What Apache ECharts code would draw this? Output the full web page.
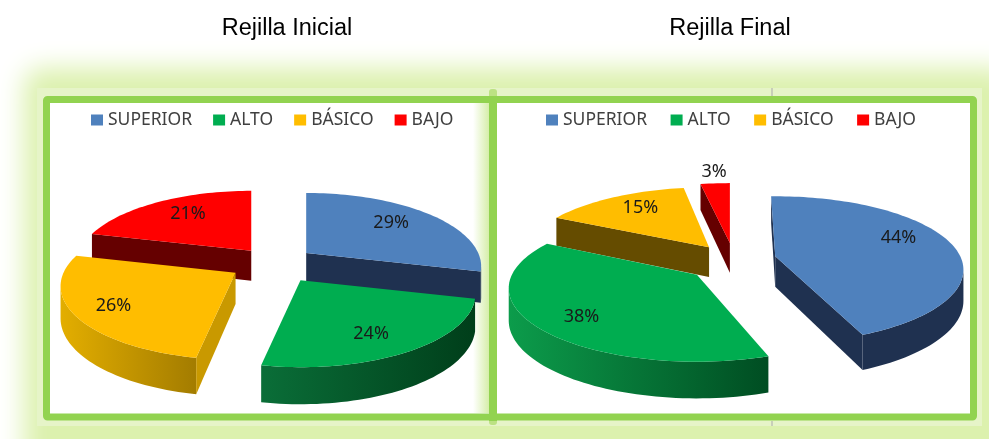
<!DOCTYPE html>
<html>

<head>
    <meta charset="utf-8">
    <title>Rejilla Inicial / Rejilla Final</title>
    <script src="https://cdn.jsdelivr.net/npm/echarts@6/dist/echarts.min.js"></script>
    <style>
        html, body {
            margin: 0;
            background-color: #ffffff;
        }
        #chart {
            width: 989px;
            height: 439px;
        }
    </style>
</head>

<body>
    <div id="chart"></div>
    <script>
        const categories = ['SUPERIOR', 'ALTO', 'BÁSICO', 'BAJO'];
        const inicialValues = [29, 24, 26, 21];
        const finalValues = [44, 38, 15, 3];

        const topColors = ['#4F81BD', '#00AD50', '#FFBD00', '#FF0000'];

        // la perspectiva del pastel 3D: el lado lejano se ve mas pequeño
        const PERSPECTIVE = 0.184;
        const FONT = '"Noto Sans", sans-serif';

        // nudge / turn / label: ajustes finos por trozo [x, y], grados, [x, y]
        const pies = [
            {
                values: inicialValues, cx: 273, cy: 264, rx: 172, ry: 71, explodeX: 42, explodeY: 18,
                nudge: [[0, 0], [5, 1], [-2, -1], [4, 1]],
                turn: [0, 0, 0, 0],
                label: [[-3, -2], [-8, 3], [-6, 3], [3, -2]],
                cutWalls: ['#1F3150', '#005A2B', '#C99900', '#650000'],
                outerWalls: [
                    ['#1F3150', '#1F3150'],
                    ['#0A6E38', '#003E1A'],
                    ['#E3AE00', '#A37C00'],
                    ['#650000', '#650000']
                ]
            },
            {
                values: finalValues, cx: 734, cy: 262, rx: 185, ry: 71, explodeX: 44, explodeY: 20,
                nudge: [[-2, -2], [-5, -1], [2, 1], [0, 1]],
                turn: [-1.5, 3, 1.5, 0],
                label: [[-2, -8], [0, 5], [0, -3], [2, 0]],
                cutWalls: ['#1F3150', '#005A2B', '#654C00', '#650000'],
                outerWalls: [
                    ['#1F3150', '#1F3150'],
                    ['#0C9C4B', '#004D22'],
                    ['#654C00', '#654C00'],
                    ['#650000', '#650000']
                ]
            }
        ];

        function project(pie, theta) {
            const k = 1 + PERSPECTIVE * Math.cos(theta);
            return [pie.rx * Math.sin(theta) / k, -pie.ry * Math.cos(theta) / k];
        }

        function depthAt(y) {
            return 30 + (y - 250) * 0.06;
        }

        function drop(p) {
            return [p[0], p[1] + depthAt(p[1])];
        }

        function makeSlice(pie, index) {
            const total = pie.values.reduce((a, b) => a + b, 0);
            const before = pie.values.slice(0, index).reduce((a, b) => a + b, 0);
            const value = pie.values[index];
            const start = before / total * Math.PI * 2;
            const end = (before + value) / total * Math.PI * 2;
            const mid = (start + end) / 2;
            const turn = pie.turn[index] * Math.PI / 180;
            return {
                type: 'custom',
                name: categories[index],
                coordinateSystem: 'none',
                farness: Math.cos(mid),
                itemStyle: { color: topColors[index] },
                data: [[value, start, end]],
                renderItem: function (params, api) {
                    const a0 = api.value(1), a1 = api.value(2), m = (a0 + a1) / 2;
                    const apex = [
                        pie.cx + pie.explodeX * Math.sin(m) + pie.nudge[index][0],
                        pie.cy - pie.explodeY * Math.cos(m) + pie.nudge[index][1]
                    ];
                    const at = function (theta, scale) {
                        const p = project(pie, theta + turn);
                        return [apex[0] + p[0] * scale, apex[1] + p[1] * scale];
                    };
                    const arc = [];
                    const steps = Math.max(4, Math.ceil((a1 - a0) / 0.03));
                    for (let i = 0; i <= steps; i++) {
                        arc.push(at(a0 + (a1 - a0) * i / steps, 1));
                    }
                    const children = [];

                    // pared curva: solo los tramos que van hacia la izquierda miran al frente
                    const front = arc.filter((p, i) =>
                        (i < arc.length - 1 && arc[i + 1][0] < p[0]) || (i > 0 && p[0] < arc[i - 1][0]));
                    if (front.length > 1) {
                        children.push({
                            type: 'polygon',
                            shape: { points: front.concat(front.map(drop).reverse()) },
                            style: {
                                fill: new echarts.graphic.LinearGradient(0, 0, 1, 0, [
                                    { offset: 0, color: pie.outerWalls[index][0] },
                                    { offset: 1, color: pie.outerWalls[index][1] }
                                ])
                            }
                        });
                    }
                    // paredes de corte
                    [[apex, arc[0]], [arc[arc.length - 1], apex]].forEach(function (edge) {
                        if (edge[1][0] < edge[0][0]) {
                            children.push({
                                type: 'polygon',
                                shape: { points: [edge[0], edge[1], drop(edge[1]), drop(edge[0])] },
                                style: { fill: pie.cutWalls[index] }
                            });
                        }
                    });
                    children.push({
                        type: 'polygon',
                        shape: { points: [apex].concat(arc) },
                        style: { fill: topColors[index] }
                    });
                    // los trozos pequeños llevan la etiqueta por fuera
                    const labelPos = at(m, api.value(0) < 5 ? 1.2 : 0.72);
                    children.push({
                        type: 'text',
                        x: labelPos[0] + pie.label[index][0],
                        y: labelPos[1] + pie.label[index][1],
                        z2: 10,
                        style: {
                            text: api.value(0) + '%',
                            font: '18px ' + FONT,
                            fill: '#1A1A1A',
                            align: 'center',
                            verticalAlign: 'middle'
                        }
                    });
                    return { type: 'group', children: children };
                }
            };
        }

        function makeLegend(left, gap) {
            return {
                left: left,
                top: 111,
                data: categories,
                icon: 'rect',
                itemWidth: 12,
                itemHeight: 11,
                itemGap: gap,
                padding: 0,
                selectedMode: false,
                textStyle: { fontFamily: FONT, fontSize: 17.5, color: '#404040' }
            };
        }

        const chart = echarts.init(document.getElementById('chart'), null, { renderer: 'canvas' });

        const series = [];
        pies.forEach(function (pie) {
            // de atras hacia adelante
            const slices = categories.map((name, i) => makeSlice(pie, i));
            slices.sort((a, b) => b.farness - a.farness);
            slices.forEach(s => series.push(s));
        });

        const option = {
            animation: false,
            backgroundColor: '#ffffff',
            title: [
                {
                    text: 'Rejilla Inicial', left: 282, top: 12, textAlign: 'center',
                    textStyle: { fontFamily: '"Liberation Sans"', fontSize: 23.5, fontWeight: 'normal', color: '#000000' }
                },
                {
                    text: 'Rejilla Final', left: 725, top: 12, textAlign: 'center',
                    textStyle: { fontFamily: '"Liberation Sans"', fontSize: 23.5, fontWeight: 'normal', color: '#000000' }
                }
            ],
            legend: [makeLegend(91, 21), makeLegend(546, 23.5)],
            graphic: [
                {
                    // solo la sombra cae dentro del lienzo, asi el halo no tiene borde duro
                    type: 'rect', z: -5,
                    shape: { x: 24 - 3000, y: 68, width: 990, height: 420, r: 18 },
                    style: { fill: '#DCF1AE', shadowBlur: 26, shadowColor: '#DCF1AE', shadowOffsetX: 3000 }
                },
                {
                    type: 'rect', z: -4,
                    shape: { x: 37, y: 88, width: 945, height: 338 },
                    style: { fill: '#E6F4C8' }
                },
                {
                    type: 'rect', z: -3,
                    shape: { x: 46.5, y: 99.5, width: 927, height: 317.5, r: 1 },
                    style: { fill: '#ffffff', stroke: '#92D350', lineWidth: 7 }
                },
                {
                    type: 'rect', z: -2,
                    shape: { x: 473, y: 103, width: 16, height: 310 },
                    style: {
                        fill: new echarts.graphic.LinearGradient(0, 0, 1, 0, [
                            { offset: 0, color: 'rgba(214,238,170,0)' },
                            { offset: 1, color: '#D6EEAA' }
                        ])
                    }
                },
                {
                    type: 'rect', z: -2,
                    shape: { x: 489, y: 89, width: 8, height: 336, r: 3 },
                    style: { fill: '#BCE283' }
                },
                {
                    type: 'rect', z: -2,
                    shape: { x: 489, y: 96, width: 8, height: 325 },
                    style: { fill: '#92D350' }
                },
                {
                    type: 'rect', z: -2,
                    shape: { x: 771.5, y: 88, width: 1, height: 8 },
                    style: { fill: '#A9A9A9' }
                },
                {
                    type: 'rect', z: -2,
                    shape: { x: 771.5, y: 421, width: 1, height: 5 },
                    style: { fill: '#A9A9A9' }
                }
            ],
            series: series
        };
        chart.setOption(option);
    </script>
</body>

</html>
